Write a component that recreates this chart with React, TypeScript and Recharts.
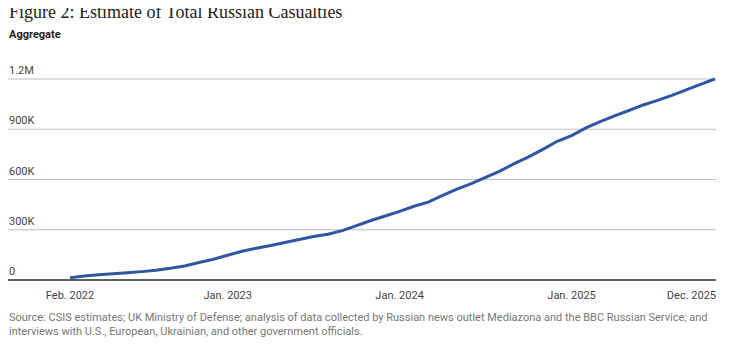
import React from 'react';
import { LineChart, Line, XAxis, YAxis, CartesianGrid } from 'recharts';

// month index: 1 = Feb. 2022 ... 46 = latest point (Dec. 2025)
const monthIndex = [
  1, 2, 3, 4, 5, 6, 7, 8, 9, 10, 11, 12, 13, 14, 15, 16, 17, 18, 19, 20, 21, 22, 23,
  24, 25, 26, 27, 28, 29, 30, 31, 32, 33, 34, 35, 36, 37, 38, 39, 40, 41, 42, 43, 44, 45, 46,
];
const casualties = [
  14000, 24000, 31000, 37000, 43000, 50000, 58000, 70000, 84000, 104000, 124000, 148000,
  172000, 190000, 206000, 224000, 242000, 260000, 273000, 295000, 325000, 355000, 382000,
  410000, 440000, 465000, 505000, 542000, 576000, 613000, 650000, 695000, 735000, 780000,
  828000, 862000, 908000, 946000, 980000, 1012000, 1045000, 1072000, 1102000, 1135000,
  1168000, 1200000,
];

const xTicks = [1, 12, 24, 36, 46];
const xTickLabels = ['Feb. 2022', 'Jan. 2023', 'Jan. 2024', 'Jan. 2025', 'Dec. 2025'];
const yTicks = [0, 300000, 600000, 900000, 1200000];
const yTickLabels = ['0', '300K', '600K', '900K', '1.2M'];

const data = monthIndex.map((m, i) => ({ m, value: casualties[i] }));

const sans = 'Roboto, "Liberation Sans", Arial, sans-serif';

const XTick = (props: any) => {
  const { x, y, payload } = props;
  const i = xTicks.indexOf(payload.value);
  const last = i === xTicks.length - 1;
  return (
    <text
      x={last ? 716 : x}
      y={y + 11}
      textAnchor={last ? 'end' : 'middle'}
      fontSize={11}
      fontFamily={sans}
      fill="#444"
    >
      {xTickLabels[i]}
    </text>
  );
};

const YTick = (props: any) => {
  const { y, payload } = props;
  const i = yTicks.indexOf(payload.value);
  return (
    <text x={9} y={y - 5} textAnchor="start" fontSize={11} fontFamily={sans} fill="#444">
      {yTickLabels[i]}
    </text>
  );
};

const App = () => {
  return (
    <div style={{ position: 'relative', width: 732, height: 348, margin: -8, background: '#fff' }}>
      <div
        style={{
          position: 'absolute',
          left: 9,
          top: 2,
          fontFamily: '"Liberation Serif", "DejaVu Serif", serif',
          fontSize: 18,
          lineHeight: '20px',
          color: '#222',
          whiteSpace: 'nowrap',
        }}
      >
        Figure 2: Estimate of Total Russian Casualties
      </div>
      <div
        style={{
          position: 'absolute',
          left: 9,
          top: 28,
          fontFamily: sans,
          fontWeight: 700,
          fontSize: 11,
          color: '#222',
        }}
      >
        Aggregate
      </div>
      <div style={{ position: 'absolute', left: 0, top: 60 }}>
        <LineChart width={732} height={254} data={data} margin={{ top: 19, right: 16, left: 7, bottom: 14 }}>
          <CartesianGrid vertical={false} stroke="#bdbdbd" strokeWidth={1} />
          <XAxis
            dataKey="m"
            type="number"
            domain={[-3.33, 46.08]}
            ticks={xTicks}
            interval={0}
            height={20}
            axisLine={{ stroke: '#333', strokeWidth: 1.5 }}
            tickLine={false}
            tick={<XTick />}
          />
          <YAxis
            type="number"
            domain={[0, 1200000]}
            ticks={yTicks}
            width={1}
            interval={0}
            axisLine={false}
            tickLine={false}
            tick={<YTick />}
          />
          <Line
            type="linear"
            dataKey="value"
            stroke="#2f56a1"
            strokeWidth={3}
            dot={false}
            isAnimationActive={false}
          />
        </LineChart>
      </div>
      <div
        style={{
          position: 'absolute',
          left: 9,
          top: 311,
          width: 715,
          fontFamily: sans,
          fontSize: 11,
          lineHeight: '14px',
          color: '#777',
        }}
      >
        Source: CSIS estimates; UK Ministry of Defense; analysis of data collected by Russian news outlet
        Mediazona and the BBC Russian Service; and interviews with U.S., European, Ukrainian, and other
        government officials.
      </div>
    </div>
  );
};

export default App;
